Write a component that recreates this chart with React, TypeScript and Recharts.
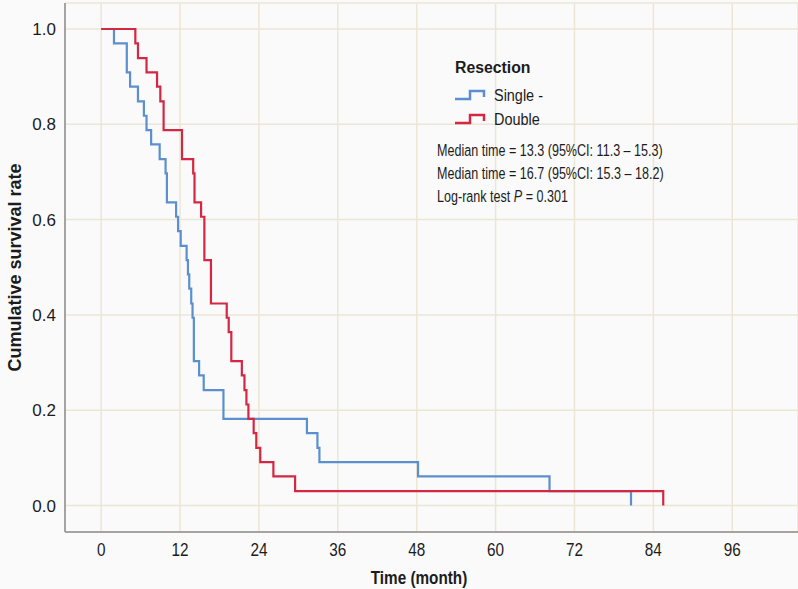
import React from 'react';
import { LineChart, Line, XAxis, YAxis, CartesianGrid, Customized } from 'recharts';

const FONT = '"Liberation Sans", Arial, Helvetica, sans-serif';

const xTicks = [0, 12, 24, 36, 48, 60, 72, 84, 96];
const yTicks = [0, 0.2, 0.4, 0.6, 0.8, 1.0];

const seriesNames = ['Single -', 'Double'];
const seriesColors = ['#5b8fcf', '#d42743'];

// Single resection (Kaplan-Meier steps)
const singleTime = [0, 1.95, 3.9, 4.4, 5.6, 6.5, 6.9, 7.6, 8.9, 9.8, 10.0, 11.4, 11.7, 12.1, 13.0, 13.2, 13.4, 13.7, 13.9, 14.1, 14.9, 15.6, 18.6, 31.3, 32.9, 33.2, 48.2, 68.2, 80.6];
const singleSurv = [1.0, 0.970, 0.909, 0.879, 0.848, 0.818, 0.788, 0.758, 0.727, 0.697, 0.636, 0.606, 0.576, 0.545, 0.515, 0.485, 0.455, 0.424, 0.394, 0.303, 0.273, 0.242, 0.182, 0.152, 0.121, 0.091, 0.061, 0.030, 0.0];

// Double resection
const doubleTime = [0, 5.2, 5.6, 6.9, 8.5, 9.0, 9.5, 12.3, 14.0, 14.2, 15.2, 15.7, 16.7, 19.1, 19.4, 19.8, 21.4, 21.8, 22.1, 22.4, 23.2, 23.6, 24.2, 26.2, 29.5, 85.5];
const doubleSurv = [1.0, 0.970, 0.939, 0.909, 0.879, 0.848, 0.788, 0.727, 0.697, 0.636, 0.606, 0.515, 0.424, 0.394, 0.364, 0.303, 0.273, 0.242, 0.212, 0.182, 0.152, 0.121, 0.091, 0.061, 0.030, 0.0];

const legendTitle = 'Resection';
const statLines = [
  'Median time = 13.3 (95%CI: 11.3 \u2013 15.3)',
  'Median time = 16.7 (95%CI: 15.3 \u2013 18.2)',
];
const logRankPrefix = 'Log-rank test ';
const logRankP = 'P';
const logRankValue = ' = 0.301';

const xTitle = 'Time (month)';
const yTitle = 'Cumulative survival rate';

const singleData = singleTime.map((t, i) => ({ t, s: singleSurv[i] }));
const doubleData = doubleTime.map((t, i) => ({ t, s: doubleSurv[i] }));

const TEXT_COLOR = '#1c1c1c';

const XTick = (props: any) => {
  const { x, y, payload } = props;
  return (
    <g transform={`translate(${x},${y})`}>
      <text
        transform="scale(0.85,1)"
        textAnchor="middle"
        dy="0.71em"
        fontSize={18}
        fontFamily={FONT}
        fill={TEXT_COLOR}
      >
        {payload.value}
      </text>
    </g>
  );
};

const YTick = (props: any) => {
  const { x, y, payload } = props;
  return (
    <text
      x={x}
      y={y}
      textAnchor="end"
      dy="0.355em"
      fontSize={17}
      fontFamily={FONT}
      fill={TEXT_COLOR}
    >
      {Number(payload.value).toFixed(1)}
    </text>
  );
};

const Squeezed = ({ x, y, children, size, weight, anchor, squeeze }: any) => (
  <g transform={`translate(${x},${y})`}>
    <text
      transform={`scale(${squeeze},1)`}
      fontSize={size}
      fontWeight={weight || 'normal'}
      fontFamily={FONT}
      fill={TEXT_COLOR}
      textAnchor={anchor || 'start'}
    >
      {children}
    </text>
  </g>
);

const Overlay = () => {
  const iconPath = (y: number) => `M455 ${y + 4} H470 V${y - 4} H484 V${y + 2}`;
  return (
    <g>
      {/* axis titles */}
      <Squeezed x={419} y={584} size={18} weight="bold" anchor="middle" squeeze={0.85}>{xTitle}</Squeezed>
      <text
        transform="translate(21,267.5) rotate(-90)"
        textAnchor="middle"
        fontSize={18}
        fontWeight="bold"
        fontFamily={FONT}
        fill={TEXT_COLOR}
      >
        {yTitle}
      </text>

      {/* legend */}
      <Squeezed x={455} y={73} size={17} weight="bold" squeeze={0.93}>{legendTitle}</Squeezed>
      {seriesNames.map((name, i) => {
        const cy = 95 + i * 24;
        return (
          <g key={name}>
            <path d={iconPath(cy)} fill="none" stroke={seriesColors[i]} strokeWidth={2.5} />
            <Squeezed x={494} y={cy + 6} size={17} squeeze={0.85}>{name}</Squeezed>
          </g>
        );
      })}

      {/* statistics */}
      {statLines.map((line, i) => (
        <Squeezed key={line} x={437} y={156 + i * 23} size={17} squeeze={0.74}>{line}</Squeezed>
      ))}
      <g transform={`translate(437,${156 + 2 * 23})`}>
        <text transform="scale(0.74,1)" fontSize={17} fontFamily={FONT} fill={TEXT_COLOR}>
          {logRankPrefix}
          <tspan fontStyle="italic">{logRankP}</tspan>
          {logRankValue}
        </text>
      </g>
    </g>
  );
};

export default function App() {
  return (
    <div style={{ position: 'absolute', left: 0, top: 0, width: 798, height: 589, background: '#fafafa' }}>
      <LineChart
        width={798}
        height={589}
        margin={{ top: 3, right: 0, bottom: 0, left: 0 }}
        style={{ background: '#fafafa' }}
      >
        <CartesianGrid stroke="#ece6d4" strokeWidth={1.5} />
        <XAxis
          type="number"
          dataKey="t"
          domain={[-5.5, 106]}
          ticks={xTicks}
          allowDataOverflow
          height={57}
          tickLine={false}
          tickSize={0}
          tickMargin={11}
          tick={XTick}
          axisLine={{ stroke: '#8c8c8c', strokeWidth: 1.5 }}
        />
        <YAxis
          type="number"
          dataKey="s"
          domain={[-0.0556, 1.0546]}
          ticks={yTicks}
          allowDataOverflow
          width={65}
          tickLine={false}
          tickSize={0}
          tickMargin={9}
          tick={YTick}
          axisLine={{ stroke: '#8c8c8c', strokeWidth: 1.5 }}
        />
        <Line
          data={singleData}
          dataKey="s"
          name={seriesNames[0]}
          type="stepAfter"
          stroke={seriesColors[0]}
          strokeWidth={2.2}
          dot={false}
          activeDot={false}
          isAnimationActive={false}
        />
        <Line
          data={doubleData}
          dataKey="s"
          name={seriesNames[1]}
          type="stepAfter"
          stroke={seriesColors[1]}
          strokeWidth={2.2}
          dot={false}
          activeDot={false}
          isAnimationActive={false}
        />
        <Customized component={Overlay} />
      </LineChart>
    </div>
  );
}
